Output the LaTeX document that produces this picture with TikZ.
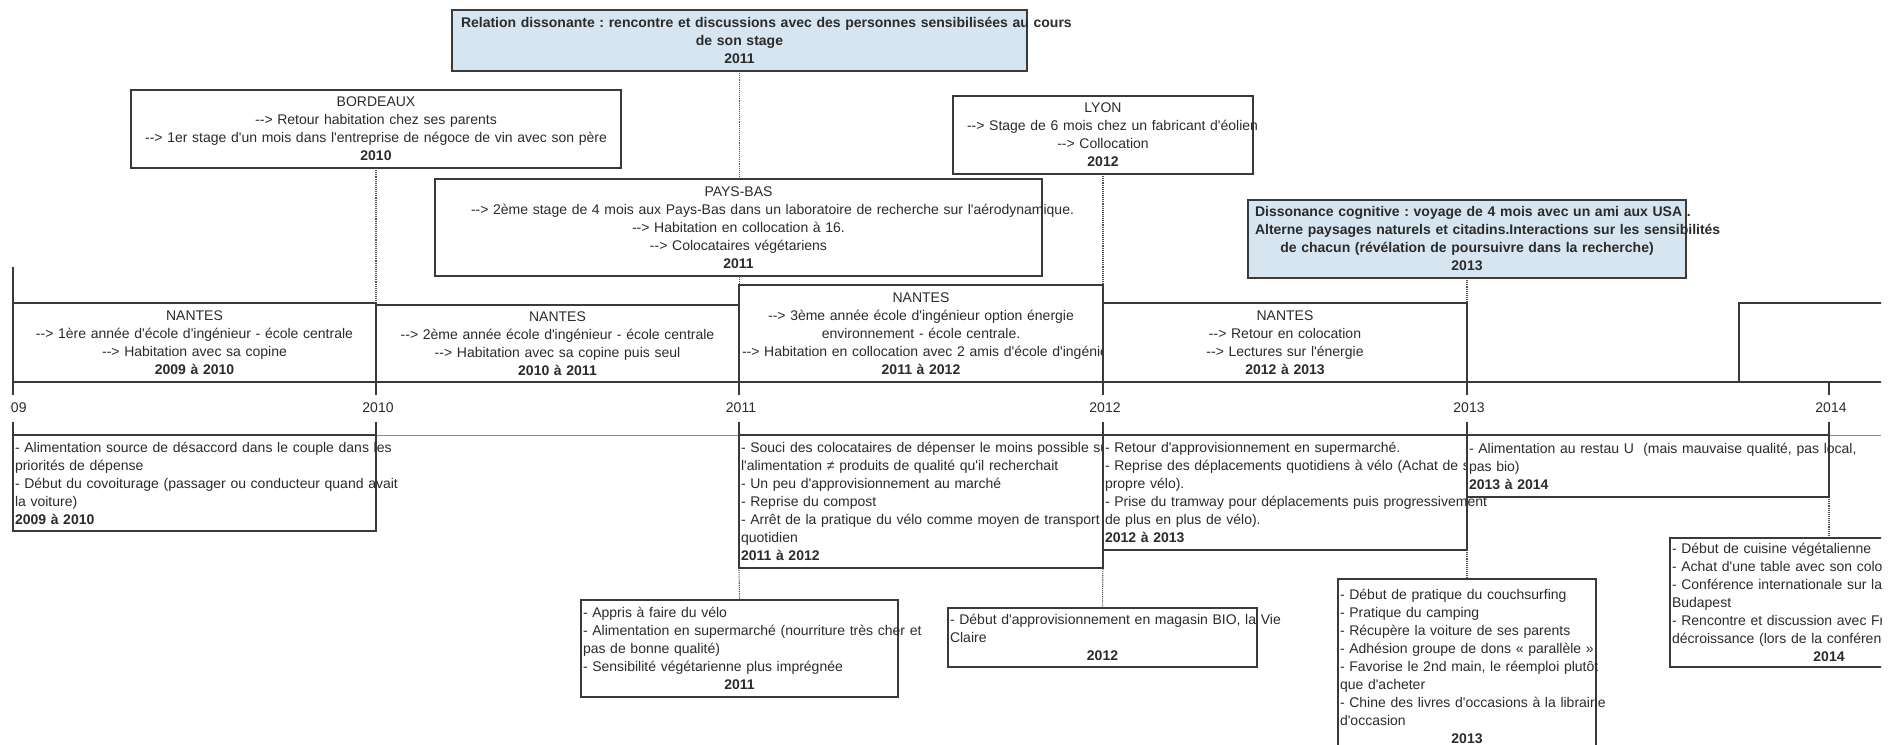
\documentclass[tikz,border=0pt]{standalone}
\usepackage{fontspec}
\defaultfontfeatures[\rmfamily,\sffamily]{}
\setmainfont{Liberation Sans}
\frenchspacing
\pgfdeclarelayer{back}
\pgfdeclarelayer{bg}
\pgfsetlayers{back,bg,main}
\definecolor{boxc}{HTML}{3A3A3A}
\definecolor{txtc}{HTML}{2B2B2B}
\definecolor{dotc}{HTML}{505050}
\definecolor{axc}{HTML}{8A8A8A}
\definecolor{bluef}{RGB}{214,229,239}
\newcommand\fsz{\fontsize{14}{18}\selectfont\frenchspacing}
\newcommand\Lx[1]{\mbox{#1}}
\newcommand\yr[1]{\hbox to\hsize{\hfil\bfseries #1\hfil}}
\tikzset{
  bx/.style={draw=boxc, fill=white, line width=1.1pt, anchor=north west, outer sep=0pt, inner ysep=0pt, font=\fsz, text=txtc},
  cbx/.style={bx, align=center},
  lbx/.style={bx, align=left},
  hl/.style={fill=bluef, font=\fsz\bfseries},
  geom/.style n args={4}{minimum width=#1pt, minimum height=#2pt, text width=#3pt, inner xsep=#4pt},
  dotl/.style={draw=dotc, line width=1.1pt, densely dotted},
  upax/.style={draw=boxc, line width=1.1pt},
  loax/.style={draw=axc, line width=1pt},
  tickl/.style={draw=boxc, line width=1.1pt},
  yrl/.style={font=\fsz, text=txtc, inner sep=0pt}
}
\begin{document}
\begin{tikzpicture}[x=1pt,y=-1pt]
\useasboundingbox (0,0) rectangle (1897,744);
\begin{pgfonlayer}{back}
\fill[white] (0,0) rectangle (1897,744);
\end{pgfonlayer}
\begin{scope}
\clip (0,0) rectangle (1881,744);
% upper boxes
\node[cbx,hl,geom={575}{61}{557}{9}] (rel) at (452,10)
  {\Lx{Relation dissonante : rencontre et discussions avec des personnes sensibilisées au cours}\\de son stage\\2011};
\node[cbx,geom={490}{78}{470}{10}] (bdx) at (131,90)
  {BORDEAUX\\--> Retour habitation chez ses parents\\\Lx{--> 1er stage d'un mois dans l'entreprise de négoce de vin avec son père}\\\textbf{2010}};
\node[cbx,geom={607}{97}{535}{36}] (pb) at (435,179)
  {PAYS-BAS\\\Lx{--> 2ème stage de 4 mois aux Pays-Bas dans un laboratoire de recherche sur l'aérodynamique.}\\--> Habitation en collocation à 16.\\--> Colocataires végétariens\\\textbf{2011}};
\node[cbx,geom={300}{78}{272}{14}] (lyon) at (953,96)
  {LYON\\\Lx{--> Stage de 6 mois chez un fabricant d'éolien}\\--> Collocation\\\textbf{2012}};
\node[cbx,hl,geom={438}{78}{424}{7}] (dis) at (1248,200)
  {\Lx{Dissonance cognitive : voyage de 4 mois avec un ami aux USA .}\\\Lx{Alterne paysages naturels et citadins.Interactions sur les sensibilités}\\\Lx{de chacun (révélation de poursuivre dans la recherche)}\\2013};
% NANTES boxes
\node[cbx,geom={363}{79}{355}{4}] (n1) at (13,303)
  {NANTES\\\Lx{--> 1ère année d'école d'ingénieur - école centrale}\\--> Habitation avec sa copine\\\textbf{2009 à 2010}};
\node[cbx,geom={363}{77}{355}{4}] (n2) at (376,305)
  {NANTES\\\Lx{--> 2ème année école d'ingénieur - école centrale}\\--> Habitation avec sa copine puis seul\\\textbf{2010 à 2011}};
\node[cbx,geom={364}{97}{358}{3}] (n3) at (739,285)
  {NANTES\\\Lx{--> 3ème année école d'ingénieur option énergie}\\environnement - école centrale.\\\Lx{--> Habitation en collocation avec 2 amis d'école d'ingénieur}\\\textbf{2011 à 2012}};
\node[cbx,geom={364}{79}{356}{4}] (n4) at (1103,303)
  {NANTES\\--> Retour en colocation\\--> Lectures sur l'énergie\\\textbf{2012 à 2013}};
\node[cbx,geom={400}{79}{392}{4}] (n5) at (1739,303) {};
% lower boxes
\node[lbx,geom={363}{96}{359}{2}] (l1) at (13,435)
  {\Lx{- Alimentation source de désaccord dans le couple dans les}\\priorités de dépense\\\Lx{- Début du covoiturage (passager ou conducteur quand avait}\\la voiture)\\\textbf{2009 à 2010}};
\node[lbx,geom={364}{133}{360}{2}] (l3) at (739,435)
  {\Lx{- Souci des colocataires de dépenser le moins possible sur}\\\Lx{l'alimentation ≠ produits de qualité qu'il recherchait}\\- Un peu d'approvisionnement au marché\\- Reprise du compost\\\Lx{- Arrêt de la pratique du vélo comme moyen de transport}\\quotidien\\\textbf{2011 à 2012}};
\node[lbx,geom={364}{115}{360}{2}] (l4) at (1103,435)
  {- Retour d'approvisionnement en supermarché.\\\Lx{- Reprise des déplacements quotidiens à vélo (Achat de son}\\propre vélo).\\\Lx{- Prise du tramway pour déplacements puis progressivement}\\de plus en plus de vélo).\\\textbf{2012 à 2013}};
\node[lbx,geom={362}{62}{358}{2}] (l5) at (1467,435)
  {\Lx{- Alimentation au restau U\ \ (mais mauvaise qualité, pas local,}\\pas bio)\\\textbf{2013 à 2014}};
\node[lbx,geom={317}{97}{313}{2}] (appris) at (581,600)
  {- Appris à faire du vélo\\\Lx{- Alimentation en supermarché (nourriture très cher et}\\pas de bonne qualité)\\\Lx{- Sensibilité végétarienne plus imprégnée}\\\yr{2011}};
\node[lbx,geom={309}{59}{305}{2}] (bio) at (948,608)
  {\Lx{- Début d'approvisionnement en magasin BIO, la Vie}\\Claire\\\yr{2012}};
\node[lbx,geom={258}{175}{254}{2}] (couch) at (1338,579)
  {- Début de pratique du couchsurfing\\- Pratique du camping\\\Lx{- Récupère la voiture de ses parents}\\\Lx{- Adhésion groupe de dons « parallèle »}\\\Lx{- Favorise le 2nd main, le réemploi plutôt}\\que d'acheter\\\Lx{- Chine des livres d'occasions à la librairie}\\d'occasion\\\yr{2013}};
\node[lbx,geom={318}{129}{314}{2}] (veg) at (1670,538)
  {- Début de cuisine végétalienne\\\Lx{- Achat d'une table avec son coloc}\\\Lx{- Conférence internationale sur la}\\Budapest\\\Lx{- Rencontre et discussion avec Fra}\\\Lx{décroissance (lors de la conférenc}\\\yr{2014}};
% year labels
\begin{scope}
\clip (10,395) rectangle (60,422);
\node[yrl] (y09) at (11,408) {2009};
\end{scope}
\node[yrl] (y10) at (378,408) {2010};
\node[yrl] (y11) at (741,408) {2011};
\node[yrl] (y12) at (1105,408) {2012};
\node[yrl] (y13) at (1469,408) {2013};
\node[yrl] (y14) at (1831,408) {2014};
\end{scope}
\begin{pgfonlayer}{bg}
\draw[upax] (13,382) -- (1881,382);
\draw[loax] (13,435) -- (1881,435);
\foreach \xx in {13,376,739,1103,1467,1829} {
  \draw[tickl] (\xx,382) -- (\xx,395);
  \draw[tickl] (\xx,422) -- (\xx,435);
}
\coordinate (tl) at (13,267);
\draw[tickl] (tl) -- (n1.north west);
\draw[dotl] (rel.south) -- (rel.south |- n3.north);
\draw[dotl] (bdx.south) -- (n1.north east);
\draw[dotl] (lyon.south) -- (n3.north east);
\draw[dotl] (dis.south) -- (n4.north east);
\draw[dotl] (l3.south west) -- (appris.north);
\draw[dotl] (l4.south west) -- (bio.north);
\draw[dotl] (l4.south east) -- (couch.north);
\draw[dotl] (l5.south east) -- (veg.north);
\end{pgfonlayer}
\end{tikzpicture}
\end{document}
